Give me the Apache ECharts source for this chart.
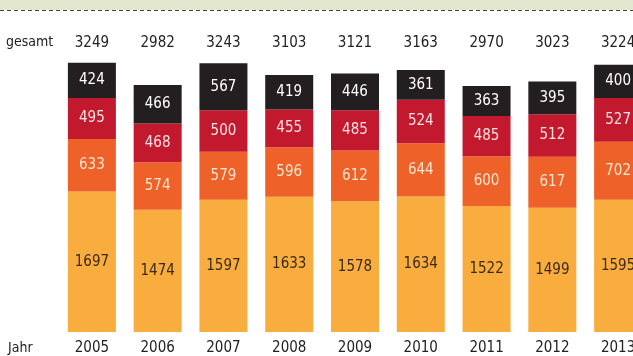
<!DOCTYPE html>
<html><head><meta charset="utf-8">
<script src="https://cdn.jsdelivr.net/npm/echarts@6/dist/echarts.min.js"></script>
<style>html,body{margin:0;padding:0;background:#fff;overflow:hidden;width:633px;height:356px}#c{width:660px;height:356px}</style>
</head><body><div id="c"></div>
<script>
const years = ['2005','2006','2007','2008','2009','2010','2011','2012','2013'];
const totals = [3249,2982,3243,3103,3121,3163,2970,3023,3224];
const seg1 = [1697,1474,1597,1633,1578,1634,1522,1499,1595];
const seg2 = [633,574,579,596,612,644,600,617,702];
const seg3 = [495,468,500,455,485,524,485,512,527];
const seg4 = [424,466,567,419,446,361,363,395,400];

const FONT = '"Liberation Sans Narrow","DejaVu Sans Condensed",sans-serif';
const chart = echarts.init(document.getElementById('c'));
function s(name, data, color, labelColor){
  return {name, type:'bar', stack:'a', data, barWidth:48, itemStyle:{color},
    label:{show:true, position:'inside', color:labelColor, fontFamily:FONT, fontSize:15},
    emphasis:{disabled:true}};
}
chart.setOption({
  animation:false,
  grid:{left:59, width:592, top:42, bottom:23, containLabel:false},
  xAxis:[
    {type:'category', data:years, position:'bottom', axisLine:{show:false}, axisTick:{show:false},
     axisLabel:{color:'#222', fontFamily:FONT, fontSize:15, margin:9}},
    {type:'category', data:totals, position:'top', axisLine:{show:false}, axisTick:{show:false},
     axisLabel:{color:'#222', fontFamily:FONT, fontSize:15, margin:-9}}
  ],
  yAxis:{type:'value', min:0, max:3500, show:false, splitLine:{show:false}},
  series:[
    s('a', seg1, '#F9AD3F', '#3a2a1a'),
    s('b', seg2, '#EE6229', '#FCE6D0'),
    s('c', seg3, '#C3192F', '#FBE3E3'),
    s('d', seg4, '#231F20', '#ffffff')
  ],
  graphic:[
    {type:'rect', shape:{x:0,y:0,width:660,height:10}, style:{fill:'#E3E7CF'}},
    {type:'line', shape:{x1:0,y1:10.5,x2:660,y2:10.5}, style:{stroke:'#444', lineWidth:1, lineDash:[4,3]}},
    {type:'text', left:6, top:35, style:{text:'gesamt', fill:'#222', font:'14px '+FONT}},
    {type:'text', left:8, top:341, style:{text:'Jahr', fill:'#222', font:'14px '+FONT}}
  ]
});
</script></body></html>
